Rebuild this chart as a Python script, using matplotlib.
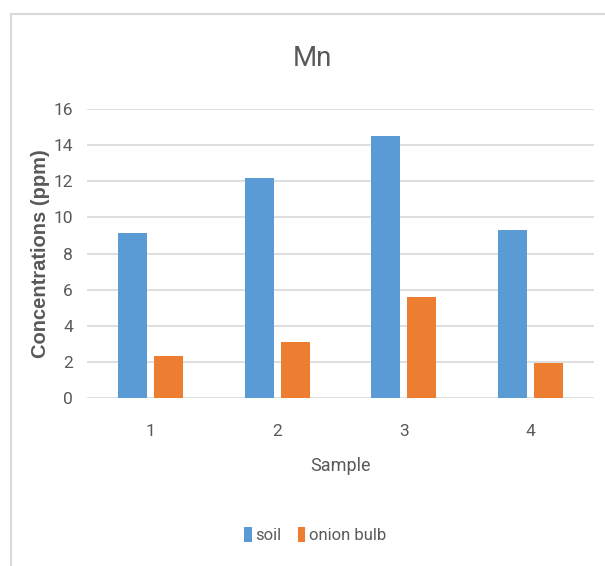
import numpy as np
import matplotlib
matplotlib.use('Agg')
import matplotlib.pyplot as plt
from matplotlib.patches import Rectangle

samples = ['1', '2', '3', '4']
soil = [9.15, 12.2, 14.5, 9.3]
onion_bulb = [2.3, 3.1, 5.6, 1.95]
yticks = [0, 2, 4, 6, 8, 10, 12, 14, 16]

narrow = ['Roboto', 'DejaVu Sans']
grey = '#595959'

fig = plt.figure(figsize=(6.05, 5.66), dpi=100)
fig.patches.append(Rectangle((11/605, -0.1), 1.2, 1 - 14/566 + 0.1, transform=fig.transFigure,
                             fill=False, edgecolor='#D9D9D9', linewidth=1.5))

ax = fig.add_axes([87/605, 1 - 398/566, 507/605, 289/566])
x = np.arange(len(samples))
w = 0.228
ax.bar(x - 0.142, soil, w, color='#5B9BD5', label='soil', zorder=3)
ax.bar(x + 0.142, onion_bulb, w, color='#ED7D31', label='onion bulb', zorder=3)

ax.set_xlim(-0.5, 3.5)
ax.set_ylim(0, 16)
ax.set_yticks(yticks)
ax.set_xticks(x)
ax.set_xticklabels(samples)
ax.grid(axis='y', color='#D9D9D9', linewidth=1.2, zorder=0)
for s in ax.spines.values():
    s.set_visible(False)
ax.tick_params(axis='both', length=0, labelcolor=grey, labelsize=12.5)
ax.tick_params(axis='x', pad=19)
ax.tick_params(axis='y', pad=10)
for lab in ax.get_xticklabels() + ax.get_yticklabels():
    lab.set_family(narrow)

ax.set_ylabel('Concentrations (ppm)', fontsize=14.5, fontweight='bold', color=grey,
              family=['Liberation Sans', 'DejaVu Sans'])
ax.yaxis.set_label_coords(-0.072, 0.5)
ax.set_xlabel('Sample', fontsize=13, color=grey, family=narrow, labelpad=13)

fig.text(312/605, 1 - 58/566, 'Mn', ha='center', va='center', fontsize=20,
         color=grey, family=narrow)

fig.legend(loc='center', bbox_to_anchor=(315/605, 1 - 535/566), ncol=2, frameon=False,
           prop={'family': narrow, 'size': 12}, labelcolor=grey, handlelength=0.45,
           handleheight=1.0, handletextpad=0.2, columnspacing=1.0)

fig.savefig('out.png', dpi=100)
